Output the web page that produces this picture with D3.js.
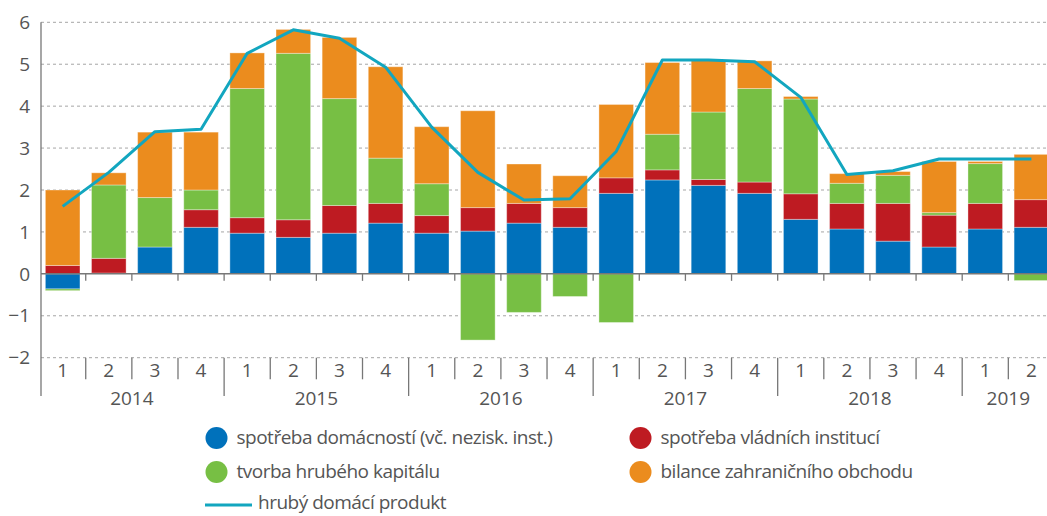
<!DOCTYPE html>
<html>
<head>
<meta charset="utf-8">
<script src="https://cdn.jsdelivr.net/npm/d3@7"></script>
<style>
    html, body { margin: 0; padding: 0; background: #fff; }
    svg { display: block; }
</style>
</head>
<body>
<div id="chart"></div>
<script>
// quarters 2014 Q1 .. 2019 Q2
const periods = ['2014-1', '2014-2', '2014-3', '2014-4', '2015-1', '2015-2', '2015-3', '2015-4',
                 '2016-1', '2016-2', '2016-3', '2016-4', '2017-1', '2017-2', '2017-3', '2017-4',
                 '2018-1', '2018-2', '2018-3', '2018-4', '2019-1', '2019-2'];
const years = ['2014', '2015', '2016', '2017', '2018', '2019'];
const yTicks = [-2, -1, 0, 1, 2, 3, 4, 5, 6];

const household  = [-0.36, 0.02, 0.64, 1.11, 0.97, 0.87, 0.97, 1.21, 0.97, 1.02, 1.21, 1.11, 1.92, 2.24, 2.11, 1.92, 1.30, 1.07, 0.78, 0.64, 1.07, 1.11];
const government = [0.20, 0.35, 0.00, 0.42, 0.37, 0.42, 0.66, 0.47, 0.42, 0.56, 0.47, 0.47, 0.37, 0.24, 0.14, 0.27, 0.61, 0.61, 0.90, 0.76, 0.61, 0.66];
const capital    = [-0.04, 1.75, 1.18, 0.47, 3.08, 3.97, 2.55, 1.08, 0.76, -1.58, -0.92, -0.54, -1.16, 0.85, 1.61, 2.23, 2.26, 0.48, 0.67, 0.06, 0.95, -0.16];
const trade      = [1.80, 0.29, 1.56, 1.38, 0.85, 0.57, 1.46, 2.18, 1.36, 2.31, 0.94, 0.76, 1.75, 1.71, 1.24, 0.66, 0.06, 0.23, 0.09, 1.22, 0.05, 1.08];
const gdp        = [1.61, 2.42, 3.39, 3.45, 5.26, 5.82, 5.62, 4.93, 3.50, 2.42, 1.76, 1.79, 2.92, 5.10, 5.10, 5.06, 4.21, 2.37, 2.46, 2.74, 2.74, 2.74];

const seriesNames = {
    household: 'spotřeba domácností (vč. nezisk. inst.)',
    government: 'spotřeba vládních institucí',
    capital: 'tvorba hrubého kapitálu',
    trade: 'bilance zahraničního obchodu'
};
const gdpName = 'hrubý domácí produkt';

const width = 1047,
    height = 516,
    font = '"Open Sans", sans-serif',
    textColor = '#555';

const keys = ['household', 'government', 'capital', 'trade'],
    colors = { household: '#0071bb', government: '#be1b22', capital: '#77bf44', trade: '#eb8c1e' },
    lineColor = '#12a6bf';

const table = periods.map((p, i) => ({
    period: p,
    year: p.split('-')[0],
    quarter: p.split('-')[1],
    household: household[i],
    government: government[i],
    capital: capital[i],
    trade: trade[i],
    gdp: gdp[i]
}));

const x = d3.scaleBand()
        .domain(periods)
        .range([39.6, 39.6 + 46.13 * periods.length])
        .paddingInner(0.25)
        .paddingOuter(0.125),
    y = d3.scaleLinear()
        .domain([-2, 6])
        .range([357.7, 22.3]);

const svg = d3.select('#chart')
    .append('svg')
    .attr('width', width)
    .attr('height', height)
    .style('font-family', font);

// gridlines
svg.append('g')
    .selectAll('line')
    .data(yTicks.filter(d => d !== 0))
    .join('line')
    .attr('x1', 41)
    .attr('x2', width)
    .attr('y1', d => y(d))
    .attr('y2', d => y(d))
    .attr('stroke', '#a6a6a6')
    .attr('stroke-width', 1)
    .attr('stroke-dasharray', '3,3');

// y labels
svg.append('g')
    .selectAll('text')
    .data(yTicks)
    .join('text')
    .attr('x', 30)
    .attr('y', d => y(d))
    .attr('dy', '0.35em')
    .attr('text-anchor', 'end')
    .attr('fill', textColor)
    .style('font-size', '19px')
    .text(d => d < 0 ? '\u2212' + Math.abs(d) : d);

// stacked bars
const stacked = d3.stack()
    .keys(keys)
    .offset(d3.stackOffsetDiverging)(table);

svg.append('g')
    .selectAll('g')
    .data(stacked)
    .join('g')
    .attr('fill', d => colors[d.key])
    .selectAll('rect')
    .data(d => d)
    .join('rect')
    .attr('x', d => x(d.data.period))
    .attr('width', x.bandwidth())
    .attr('y', d => y(Math.max(d[0], d[1])))
    .attr('height', d => Math.abs(y(d[0]) - y(d[1])))
    .attr('stroke', '#fff')
    .attr('stroke-opacity', 0.35)
    .attr('stroke-width', 1);

// zero line and small ticks under it
const bounds = periods.slice(1).map(p => x(p) - x.step() * x.paddingInner() / 2);

svg.append('line')
    .attr('x1', 41)
    .attr('x2', width)
    .attr('y1', y(0))
    .attr('y2', y(0))
    .attr('stroke', '#777')
    .attr('stroke-width', 1.5);

svg.append('g')
    .selectAll('line')
    .data(bounds)
    .join('line')
    .attr('x1', d => d)
    .attr('x2', d => d)
    .attr('y1', y(0))
    .attr('y2', y(0) + 7)
    .attr('stroke', '#777')
    .attr('stroke-width', 1.3);

// GDP line
const line = d3.line()
    .x(d => x(d.period) + x.bandwidth() / 2)
    .y(d => y(d.gdp));

svg.append('path')
    .datum(table)
    .attr('d', line)
    .attr('fill', 'none')
    .attr('stroke', lineColor)
    .attr('stroke-width', 3)
    .attr('stroke-linejoin', 'round');

// category axis
const axisTop = y(-2);

svg.append('line')
    .attr('x1', 41)
    .attr('x2', 41)
    .attr('y1', y(6))
    .attr('y2', 396)
    .attr('stroke', '#777')
    .attr('stroke-width', 1.3);

svg.append('g')
    .selectAll('line')
    .data(bounds.map((b, i) => ({ b, yearStart: table[i + 1].quarter === '1' })))
    .join('line')
    .attr('x1', d => d.b)
    .attr('x2', d => d.b)
    .attr('y1', axisTop)
    .attr('y2', d => d.yearStart ? 396 : 379.3)
    .attr('stroke', '#777')
    .attr('stroke-width', 1.3);

svg.append('g')
    .selectAll('text')
    .data(table)
    .join('text')
    .attr('x', d => x(d.period) + x.bandwidth() / 2)
    .attr('y', 377.3)
    .attr('text-anchor', 'middle')
    .attr('fill', textColor)
    .style('font-size', '19px')
    .text(d => d.quarter);

svg.append('g')
    .selectAll('text')
    .data(years)
    .join('text')
    .attr('x', yr => {
        const ps = table.filter(d => d.year === yr);
        return (x(ps[0].period) + x(ps[ps.length - 1].period) + x.bandwidth()) / 2;
    })
    .attr('y', 405)
    .attr('text-anchor', 'middle')
    .attr('fill', textColor)
    .style('font-size', '19px')
    .text(d => d);

// legend
const legendItems = [
    { key: 'household', cx: 216.5, cy: 438 },
    { key: 'government', cx: 640.5, cy: 438 },
    { key: 'capital', cx: 216.5, cy: 472 },
    { key: 'trade', cx: 640.5, cy: 472 }
];

const legend = svg.append('g')
    .style('font-size', '19px')
    .style('letter-spacing', '-0.5px');

legend.selectAll('g')
    .data(legendItems)
    .join('g')
    .attr('transform', d => `translate(${d.cx},${d.cy})`)
    .call(g => g.append('circle')
        .attr('r', 11)
        .attr('fill', d => colors[d.key]))
    .call(g => g.append('text')
        .attr('x', 20)
        .attr('dy', '0.33em')
        .attr('fill', textColor)
        .text(d => seriesNames[d.key]));

legend.append('line')
    .attr('x1', 205)
    .attr('x2', 252)
    .attr('y1', 505)
    .attr('y2', 505)
    .attr('stroke', lineColor)
    .attr('stroke-width', 3);

legend.append('text')
    .attr('x', 258)
    .attr('y', 509)
    .attr('fill', textColor)
    .text(gdpName);
</script>
</body>
</html>
